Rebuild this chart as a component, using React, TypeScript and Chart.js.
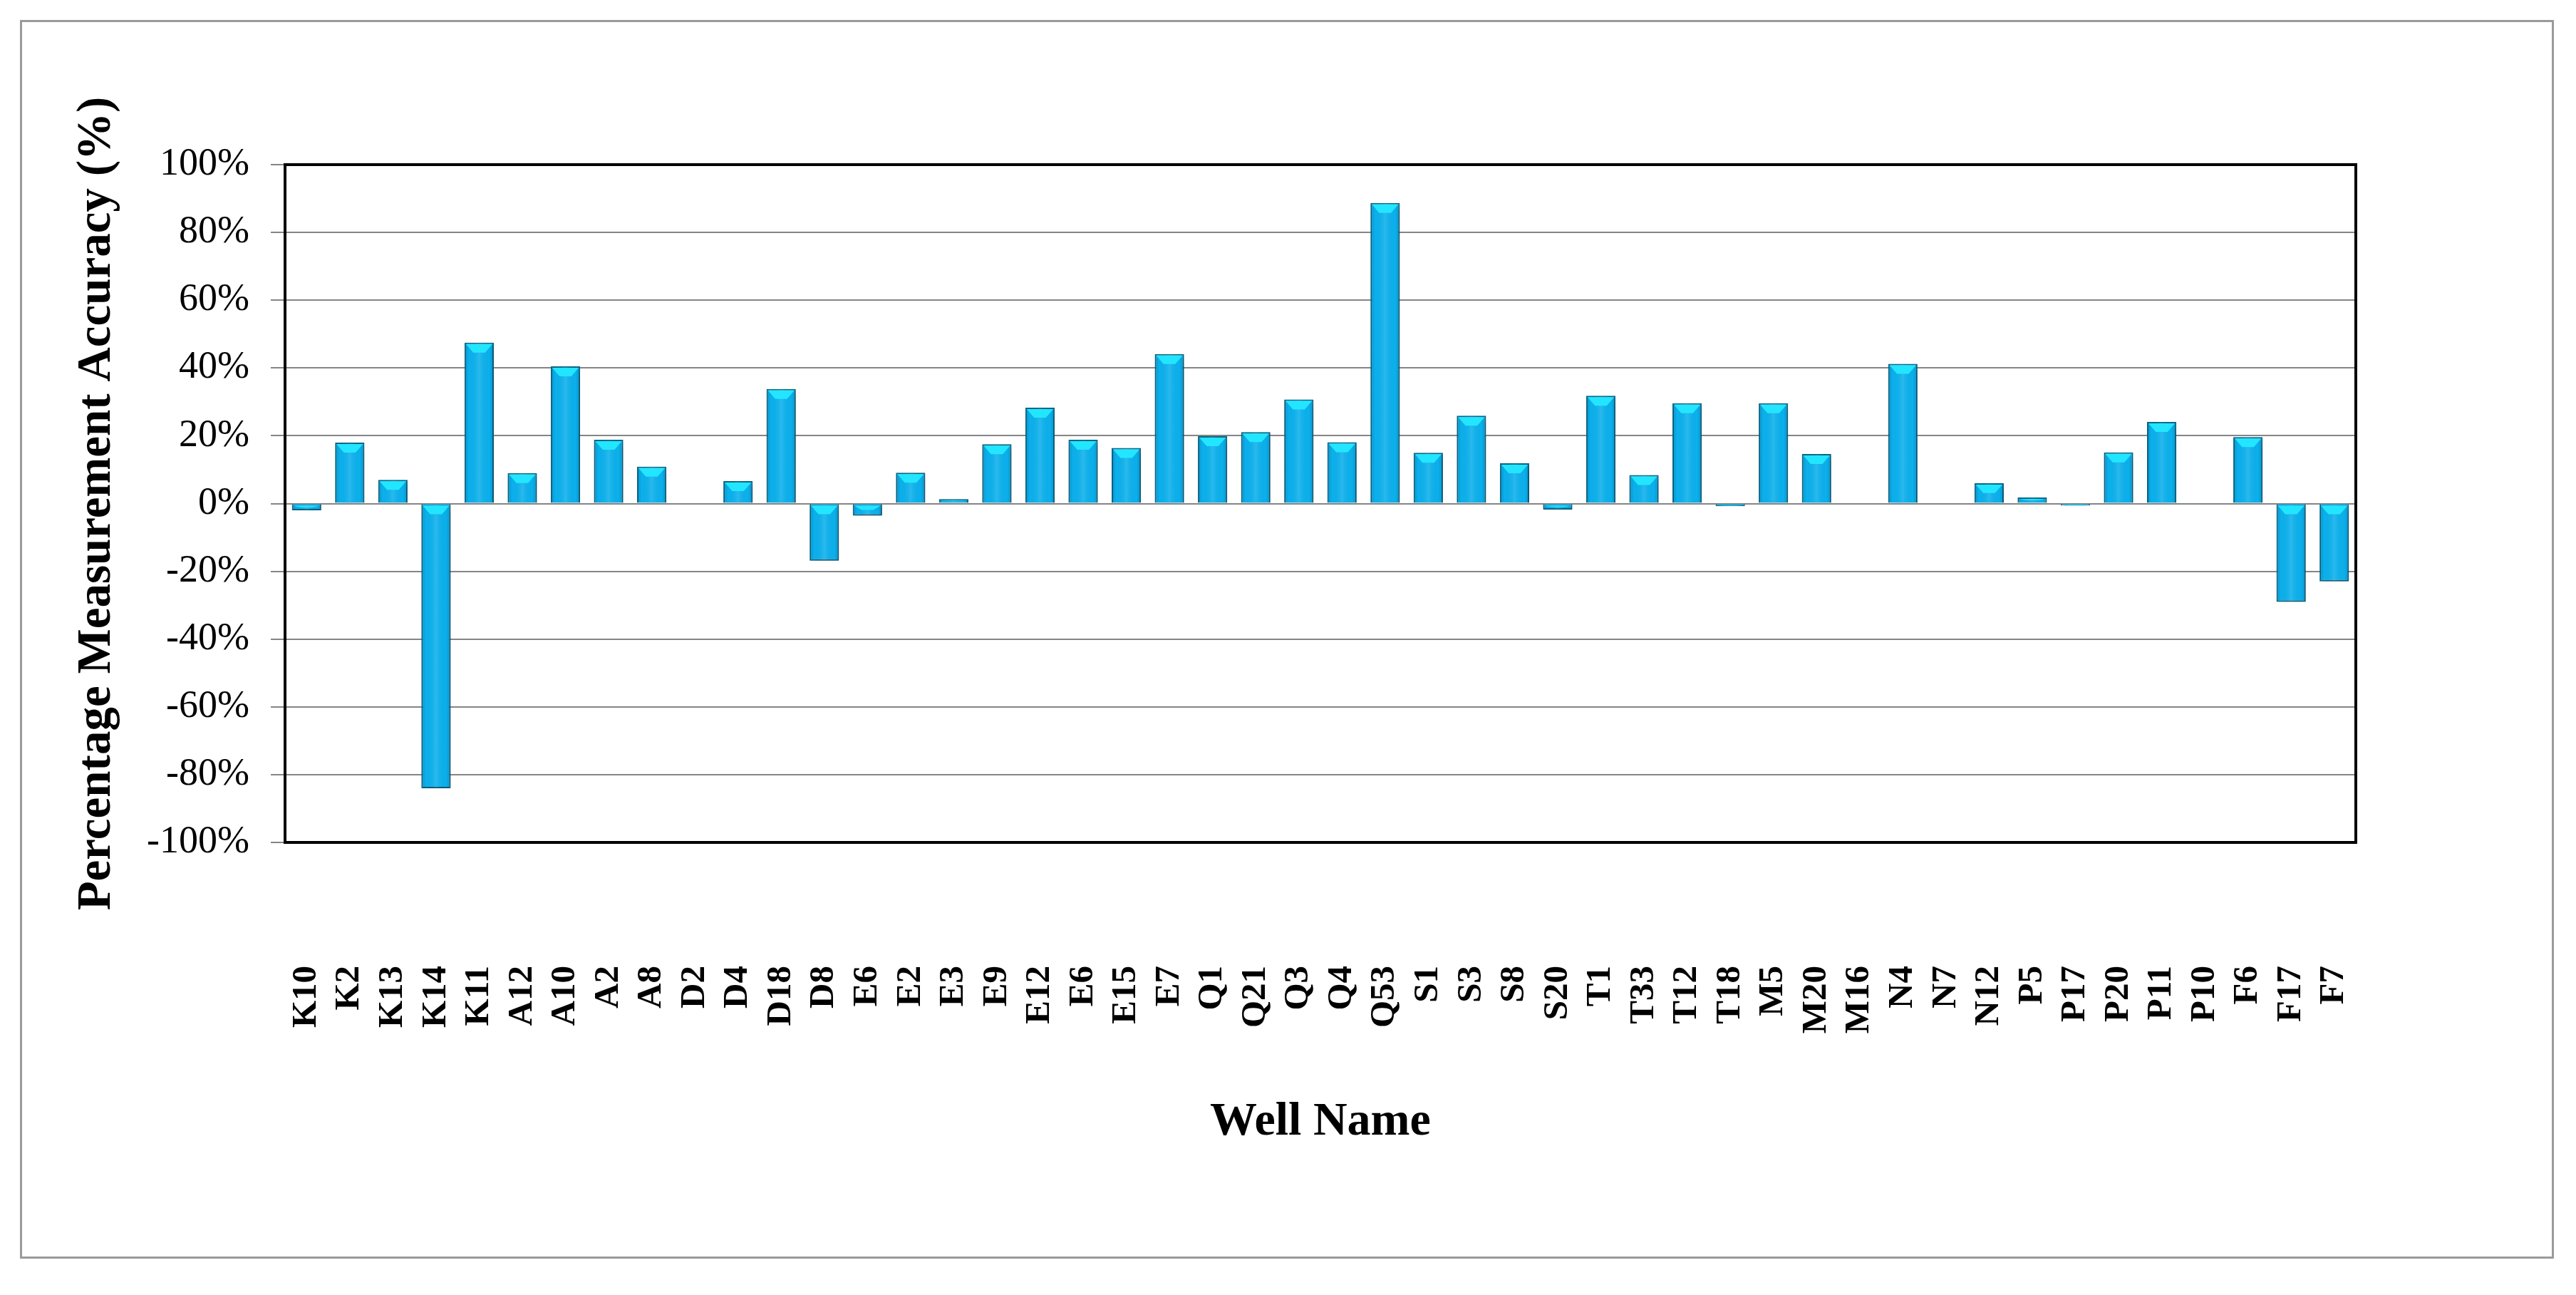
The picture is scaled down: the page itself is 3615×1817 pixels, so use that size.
import React, { useEffect, useRef } from "react";
import { Chart, registerables } from "chart.js";

Chart.register(...registerables);

const wellNames: string[] = [
  "K10", "K2", "K13", "K14", "K11", "A12", "A10", "A2", "A8", "D2", "D4", "D18",
  "D8", "E6", "E2", "E3", "E9", "E12", "E6", "E15", "E7", "Q1", "Q21", "Q3",
  "Q4", "Q53", "S1", "S3", "S8", "S20", "T1", "T33", "T12", "T18", "M5", "M20",
  "M16", "N4", "N7", "N12", "P5", "P17", "P20", "P11", "P10", "F6", "F17", "F7",
];

const accuracyPct: number[] = [
  -2, 18, 7, -84, 47.5, 9, 40.5, 18.8, 10.9, 0, 6.6, 33.8,
  -16.9, -3.6, 9.1, 1.3, 17.5, 28.3, 18.8, 16.4, 44.1, 19.9, 21.1, 30.7,
  18.1, 88.7, 15, 25.9, 11.9, -1.8, 31.8, 8.4, 29.6, -0.8, 29.6, 14.6,
  0, 41.2, 0, 6, 1.8, -0.6, 15.1, 24.1, 0, 19.6, -29, -23,
];

const yMin = -100;
const yMax = 100;
const yStep = 20;

const yTitle = "Percentage Measurement Accuracy (%)";
const xTitle = "Well Name";

const SERIF = "'Liberation Serif', 'Times New Roman', serif";

const barStyler = {
  id: "barStyler",
  beforeDatasetsDraw(chart: any) {
    const ctx = chart.ctx;
    ctx.save();
    ctx.shadowColor = "rgba(0,0,0,0.22)";
    ctx.shadowBlur = 10;
    ctx.shadowOffsetX = 3;
    ctx.shadowOffsetY = 5;
  },
  afterDatasetsDraw(chart: any) {
    const ctx = chart.ctx;
    ctx.restore();
    const meta = chart.getDatasetMeta(0);
    meta.data.forEach((bar: any) => {
      const { x, y, base, width } = bar.getProps(["x", "y", "base", "width"], true);
      const top = Math.min(y, base);
      const bottom = Math.max(y, base);
      const h = bottom - top;
      if (h < 1) return;
      const l = x - width / 2;
      const r = x + width / 2;
      ctx.save();
      const g = ctx.createLinearGradient(l, 0, r, 0);
      g.addColorStop(0, "rgba(0,70,110,0.28)");
      g.addColorStop(0.16, "rgba(0,70,110,0)");
      g.addColorStop(0.5, "rgba(255,255,255,0.12)");
      g.addColorStop(0.84, "rgba(0,70,110,0)");
      g.addColorStop(1, "rgba(0,70,110,0.28)");
      ctx.fillStyle = g;
      ctx.fillRect(l + 1, top + 1, width - 2, h - 2);
      const d = Math.min(14, h / 2);
      ctx.beginPath();
      ctx.moveTo(l + 2, top + 2);
      ctx.lineTo(r - 2, top + 2);
      ctx.lineTo(r - width * 0.3, top + d);
      ctx.lineTo(l + width * 0.3, top + d);
      ctx.closePath();
      ctx.fillStyle = "#22e6ff";
      ctx.fill();
      ctx.restore();
    });
  },
};

const plotFrame = {
  id: "plotFrame",
  afterDraw(chart: any) {
    const { ctx, chartArea } = chart;
    ctx.save();
    ctx.strokeStyle = "#000";
    ctx.lineWidth = 4;
    ctx.strokeRect(chartArea.left, chartArea.top, chartArea.right - chartArea.left, chartArea.bottom - chartArea.top);
    ctx.restore();
  },
};

export default function App() {
  const canvasRef = useRef<HTMLCanvasElement | null>(null);

  useEffect(() => {
    if (!canvasRef.current) return;
    const chart = new Chart(canvasRef.current, {
      type: "bar",
      data: {
        labels: wellNames,
        datasets: [
          {
            data: accuracyPct,
            backgroundColor: "#0bb0ec",
            borderColor: "#0b6a88",
            borderWidth: 2,
            categoryPercentage: 1,
            barPercentage: 0.68,
          },
        ],
      },
      options: {
        animation: false,
        responsive: true,
        maintainAspectRatio: false,
        devicePixelRatio: 1,
        layout: { padding: { top: 231, right: 309, left: 0, bottom: 0 } },
        plugins: {
          legend: { display: false },
          tooltip: { enabled: false },
        },
        scales: {
          x: {
            grid: { display: false },
            border: { display: true, color: "#000", width: 4 },
            ticks: {
              autoSkip: false,
              minRotation: 90,
              maxRotation: 90,
              padding: 165,
              color: "#000",
              font: { family: SERIF, size: 49, weight: "bold" },
            },
            title: {
              display: true,
              text: xTitle,
              color: "#000",
              font: { family: SERIF, size: 66, weight: "bold" },
              padding: { top: 0, bottom: 202 },
            },
            afterFit: (s: any) => {
              s.height = 635;
            },
          },
          y: {
            min: yMin,
            max: yMax,
            ticks: {
              stepSize: yStep,
              padding: 30,
              color: "#000",
              font: { family: SERIF, size: 54 },
              callback: (v: any) => `${v}%`,
            },
            grid: { color: "#858585", lineWidth: 2, tickLength: 20, drawTicks: true },
            border: { display: true, color: "#000", width: 4 },
            title: {
              display: true,
              text: yTitle,
              color: "#000",
              font: { family: SERIF, size: 67, weight: "bold" },
              padding: { top: 96, bottom: 0 },
            },
            afterFit: (s: any) => {
              s.width = 400;
            },
          },
        },
      },
      plugins: [barStyler, plotFrame],
    });
    return () => chart.destroy();
  }, []);

  return (
    <div style={{ position: "absolute", left: 0, top: 0, width: 3615, height: 1817, background: "#fff" }}>
      <canvas ref={canvasRef} />
      <div
        style={{
          position: "absolute",
          left: 28,
          top: 28,
          width: 3556,
          height: 1738,
          border: "3px solid #9a9a9a",
          boxSizing: "border-box",
          pointerEvents: "none",
        }}
      />
    </div>
  );
}
